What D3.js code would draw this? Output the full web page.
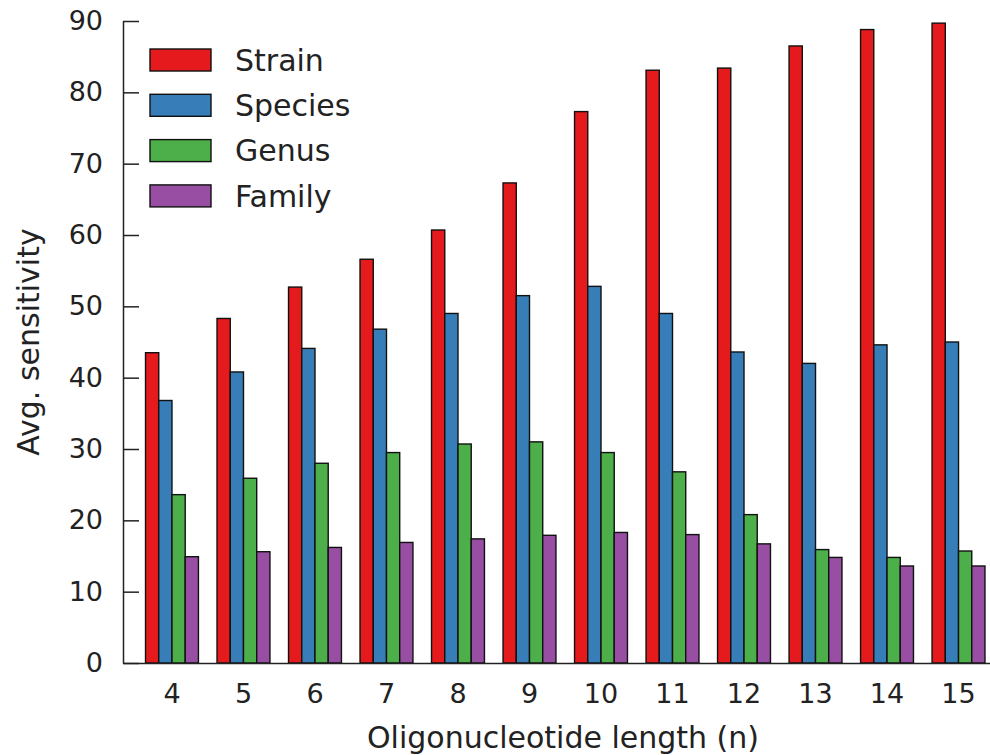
<!DOCTYPE html>
<html>
<head>
<meta charset="utf-8">
<script src="https://cdn.jsdelivr.net/npm/d3@7"></script>
<style>
  html, body { margin: 0; padding: 0; background: #fff; }
  svg { display: block; }
  text { font-family: "DejaVu Sans", sans-serif; fill: #222; }
</style>
</head>
<body>
<svg id="chart" width="990" height="755"></svg>
<script>
// ---- data ----
const lengths = [4, 5, 6, 7, 8, 9, 10, 11, 12, 13, 14, 15];
const seriesNames = ["Strain", "Species", "Genus", "Family"];
const strain  = [43.5, 48.3, 52.7, 56.6, 60.7, 67.3, 77.3, 83.1, 83.4, 86.5, 88.8, 89.7];
const species = [36.8, 40.8, 44.1, 46.8, 49.0, 51.5, 52.8, 49.0, 43.6, 42.0, 44.6, 45.0];
const genus   = [23.6, 25.9, 28.0, 29.5, 30.7, 31.0, 29.5, 26.8, 20.8, 15.9, 14.8, 15.7];
const family  = [14.9, 15.6, 16.2, 16.9, 17.4, 17.9, 18.3, 18.0, 16.7, 14.8, 13.6, 13.6];
const yTicks  = [0, 10, 20, 30, 40, 50, 60, 70, 80, 90];
const colors  = ["#e41a1c", "#377eb8", "#4daf4a", "#984ea3"];

const values = [strain, species, genus, family];
const rows = [];
lengths.forEach((n, i) => {
  seriesNames.forEach((s, j) => rows.push({ n, s, v: values[j][i], c: colors[j] }));
});

// ---- layout ----
const svg = d3.select("#chart");
const x0 = 123, yBottom = 663, yTop = 21;

const x = d3.scaleBand()
  .domain(lengths)
  .range([x0, 1007.5])
  .paddingInner(0.26)
  .paddingOuter(0.315);

const xs = d3.scaleBand()
  .domain(seriesNames)
  .range([0, x.bandwidth()]);

const y = d3.scaleLinear().domain([0, 90]).range([yBottom, yTop]);

// bars
svg.append("g").selectAll("rect")
  .data(rows)
  .join("rect")
  .attr("x", d => x(d.n) + xs(d.s))
  .attr("y", d => y(d.v))
  .attr("width", xs.bandwidth())
  .attr("height", d => y(0) - y(d.v))
  .attr("fill", d => d.c)
  .attr("stroke", "#111")
  .attr("stroke-width", 1.4);

// y axis
const yAxis = svg.append("g")
  .attr("transform", `translate(${x0},0)`)
  .call(d3.axisLeft(y).tickValues(yTicks).tickSizeInner(-16).tickSizeOuter(0).tickPadding(20));
yAxis.selectAll("text").style("font-size", "27px").style("fill", "#222");
yAxis.selectAll("line, path").attr("stroke", "#222").attr("stroke-width", 1.5);

// x axis
const xAxis = svg.append("g")
  .attr("transform", `translate(0,${yBottom})`)
  .call(d3.axisBottom(x).tickSize(0).tickPadding(21));
xAxis.selectAll("text").style("font-size", "27px").style("fill", "#222");
xAxis.selectAll("path").attr("stroke", "#222").attr("stroke-width", 1.5);

// axis titles
svg.append("text")
  .attr("transform", `translate(39,${(yTop + yBottom) / 2}) rotate(-90)`)
  .attr("text-anchor", "middle")
  .style("font-size", "30px")
  .text("Avg. sensitivity");

svg.append("text")
  .attr("x", 563)
  .attr("y", 748)
  .attr("text-anchor", "middle")
  .style("font-size", "30px")
  .text("Oligonucleotide length (n)");

// legend
const legend = svg.append("g").selectAll("g")
  .data(seriesNames)
  .join("g")
  .attr("transform", (d, i) => `translate(150,${49 + i * 45.3})`);
legend.append("rect")
  .attr("width", 61)
  .attr("height", 22)
  .attr("fill", (d, i) => colors[i])
  .attr("stroke", "#111")
  .attr("stroke-width", 1.4);
legend.append("text")
  .attr("x", 85)
  .attr("y", 11)
  .attr("dy", "0.36em")
  .style("font-size", "30px")
  .text(d => d);
</script>
</body>
</html>
